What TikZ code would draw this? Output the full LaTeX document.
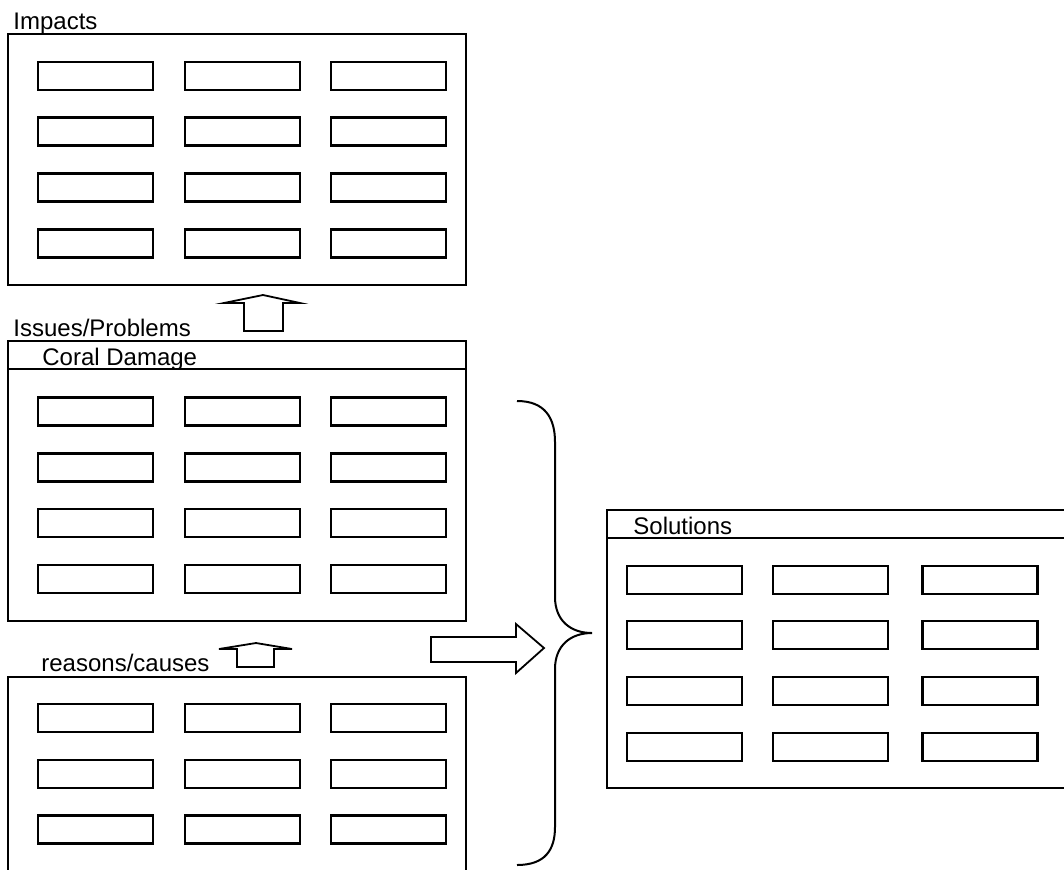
\documentclass[tikz,border=0pt]{standalone}
\usepackage{fontspec}
\setmainfont{Liberation Sans}
\usetikzlibrary{positioning,calc}

\begin{document}
\begin{tikzpicture}[x=0.5pt,y=-0.5pt,font=\fontsize{12}{14}\selectfont]
\tikzset{
  panel/.style={draw,line width=1pt},
  cell/.style={draw,line width=1.4pt,minimum width=57.5pt,minimum height=14pt,inner sep=0pt},
  title/.style={anchor=base west,inner sep=0pt},
  blockarr/.style={draw,line width=0.9pt,fill=white,line join=miter},
  brace/.style={draw,line width=1pt}
}
\useasboundingbox(0,0) rectangle (1064,869);

% panels
\draw[panel](8,34) rectangle (466,285);
\draw[panel](8,341) rectangle (466,621);
\draw[panel](8,369) -- (466,369);
\draw[panel](8,880) |- (466,677) -- (466,880);
\draw[panel](607,510) rectangle (1080,788);
\draw[panel](607,538) -- (1080,538);

% titles
\node(timp)[title] at (13,29){Impacts};
\node(tiss)[title] at (13,336){Issues/Problems};
\node(tcor)[title] at (42,365){Coral Damage};
\node(trea)[title] at (41,671){reasons/causes};
\node(tsol)[title] at (633,534){Solutions};

% cells
\foreach \r/\y in {1/76,2/131.5,3/187.5,4/243.5}
  \foreach \c/\x in {1/95.5,2/242.5,3/388.5}
    \node(imp-\r-\c)[cell] at (\x,\y){};
\foreach \r/\y in {1/411.5,2/467.5,3/523,4/579}
  \foreach \c/\x in {1/95.5,2/242.5,3/388.5}
    \node(iss-\r-\c)[cell] at (\x,\y){};
\foreach \r/\y in {1/718,2/774,3/829.5}
  \foreach \c/\x in {1/95.5,2/242.5,3/388.5}
    \node(rea-\r-\c)[cell] at (\x,\y){};
\foreach \r/\y in {1/580,2/635,3/691,4/747}
  \foreach \c/\x in {1/684.5,2/830.5,3/980}
    \node(sol-\r-\c)[cell] at (\x,\y){};

% block arrows
\draw[blockarr](263,295) -- (300,303) -- (283,303) -- (283,331) -- (244,331) -- (244,303) -- (224,303) -- cycle;
\draw[blockarr](256,643) -- (292,649) -- (274,649) -- (274,667) -- (237,667) -- (237,649) -- (219,649) -- cycle;
\draw[blockarr](544,648) -- (516,673) -- (516,662) -- (431,662) -- (431,637) -- (516,637) -- (516,624) -- cycle;

% brace
\draw[brace](517,401) .. controls (545,401) and (555,418) .. (555,442) -- (555,597)
  .. controls (555,620) and (570,633) .. (592,633)
  .. controls (570,633) and (555,646) .. (555,669) -- (555,827)
  .. controls (555,850) and (545,865) .. (517,865);
\end{tikzpicture}
\end{document}
